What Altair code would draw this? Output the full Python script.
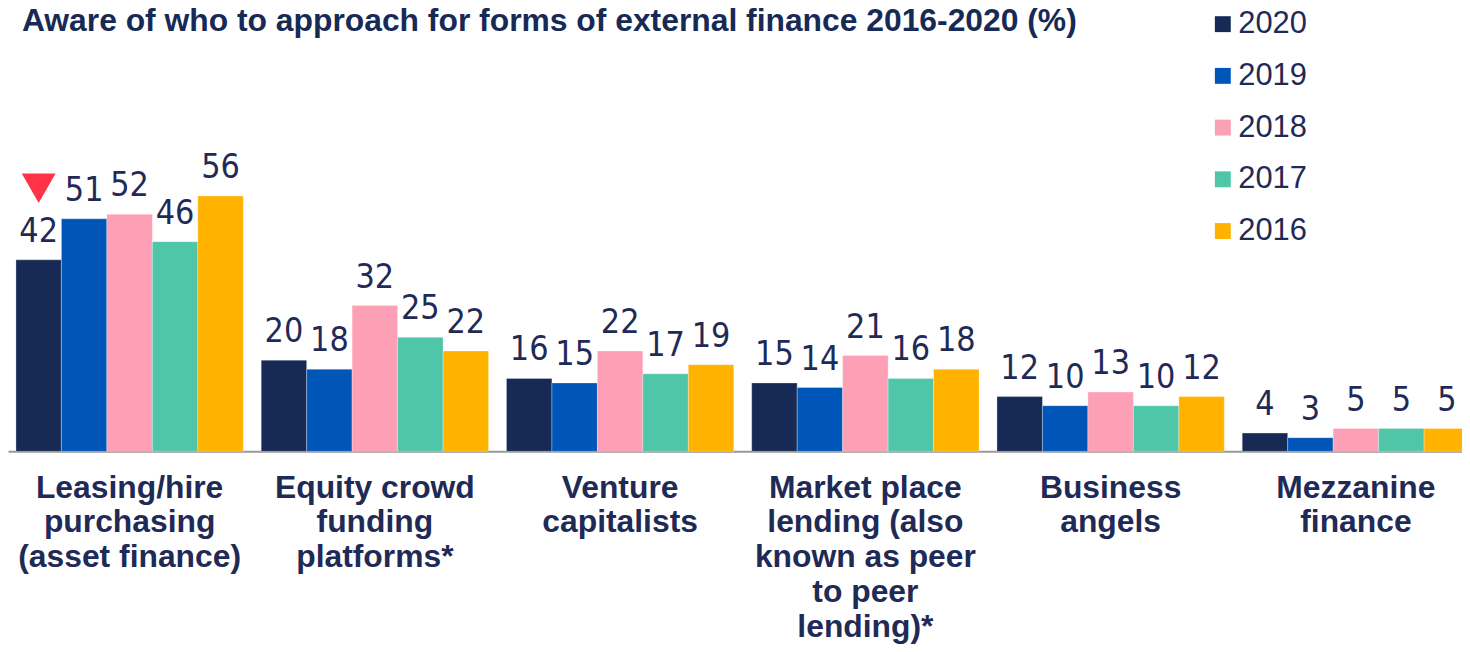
import altair as alt
import pandas as pd

categories = [
    "Leasing/hire\npurchasing\n(asset finance)",
    "Equity crowd\nfunding\nplatforms*",
    "Venture\ncapitalists",
    "Market place\nlending (also\nknown as peer\nto peer\nlending)*",
    "Business\nangels",
    "Mezzanine\nfinance",
]
years = ["2020", "2019", "2018", "2017", "2016"]
values_2020 = [42, 20, 16, 15, 12, 4]
values_2019 = [51, 18, 15, 14, 10, 3]
values_2018 = [52, 32, 22, 21, 13, 5]
values_2017 = [46, 25, 17, 16, 10, 5]
values_2016 = [56, 22, 19, 18, 12, 5]
colors = ["#172a55", "#0055b8", "#fd9fb5", "#50c6a8", "#ffb300"]

# significant decrease marker
flag_category = [categories[0]]
flag_year = ["2020"]
flag_value = [42]

title_text = "Aware of who to approach for forms of external finance 2016-2020 (%)"
text_color = "#1f2a56"

series = [values_2020, values_2019, values_2018, values_2017, values_2016]
rows = []
for y, vals in zip(years, series):
    for c, v in zip(categories, vals):
        rows.append({"category": c, "year": y, "value": v})
df = pd.DataFrame(rows)
df_flag = pd.DataFrame({"category": flag_category, "year": flag_year, "value": flag_value})

x_enc = alt.X(
    "category:N",
    sort=categories,
    scale=alt.Scale(range=[0, 1477.6], paddingInner=0.073, paddingOuter=0.0324),
    axis=alt.Axis(
        title=None,
        labelAngle=0,
        ticks=False,
        domainColor="#999999",
        domainWidth=2,
        labelFont="Liberation Sans",
        labelFontWeight="bold",
        labelFontSize=32,
        labelColor=text_color,
        labelPadding=21,
        labelBaseline="top",
        labelLineHeight=35,
        labelLimit=500,
        labelOverlap=False,
        labelExpr="split(datum.label, '\\n')",
    ),
)
xoff_enc = alt.XOffset("year:N", sort=years, scale=alt.Scale(paddingInner=0, paddingOuter=0))
y_enc = alt.Y("value:Q", scale=alt.Scale(domain=[0, 60]), axis=None)

bars = alt.Chart(df).mark_bar(stroke="white", strokeWidth=0.6, strokeOpacity=0.5).encode(
    x=x_enc,
    xOffset=xoff_enc,
    y=y_enc,
    color=alt.Color(
        "year:N",
        sort=years,
        scale=alt.Scale(domain=years, range=colors),
        legend=alt.Legend(
            orient="none",
            legendX=1206,
            legendY=-170,
            title=None,
            symbolType="square",
            symbolSize=256,
            symbolStrokeWidth=0,
            symbolOpacity=1,
            labelFont="Liberation Sans",
            labelFontSize=31,
            labelColor=text_color,
            labelOffset=0,
            rowPadding=20,
            padding=0,
        ),
    ),
)

labels = alt.Chart(df).mark_text(
    font="DejaVu Sans Condensed, DejaVu Sans",
    fontSize=34,
    dy=-18,
    baseline="alphabetic",
    color=text_color,
).encode(
    x=x_enc,
    xOffset=xoff_enc,
    y=y_enc,
    text=alt.Text("value:Q"),
)

flag = alt.Chart(df_flag).mark_point(
    shape="triangle-down",
    size=1156,
    filled=True,
    color="#ff3347",
    opacity=1,
    strokeWidth=0,
    yOffset=-72,
).encode(
    x=x_enc,
    xOffset=xoff_enc,
    y=y_enc,
)

chart = (
    alt.layer(bars, labels, flag)
    .properties(
        width=1462,
        height=275,
        autosize=alt.AutoSizeParams(type="none"),
        padding={"left": 0, "top": 169, "right": 0, "bottom": 192},
        title=alt.Title(
            title_text,
            anchor="start",
            frame="group",
            font="Liberation Sans",
            fontSize=32,
            fontWeight="bold",
            color="#172a55",
            baseline="alphabetic",
            limit=1200,
            offset=0,
            dx=14,
            dy=54,
        ),
    )
    .configure_view(stroke=None)
)

chart.save("out.html", embed_options={"renderer": "svg", "actions": False})
